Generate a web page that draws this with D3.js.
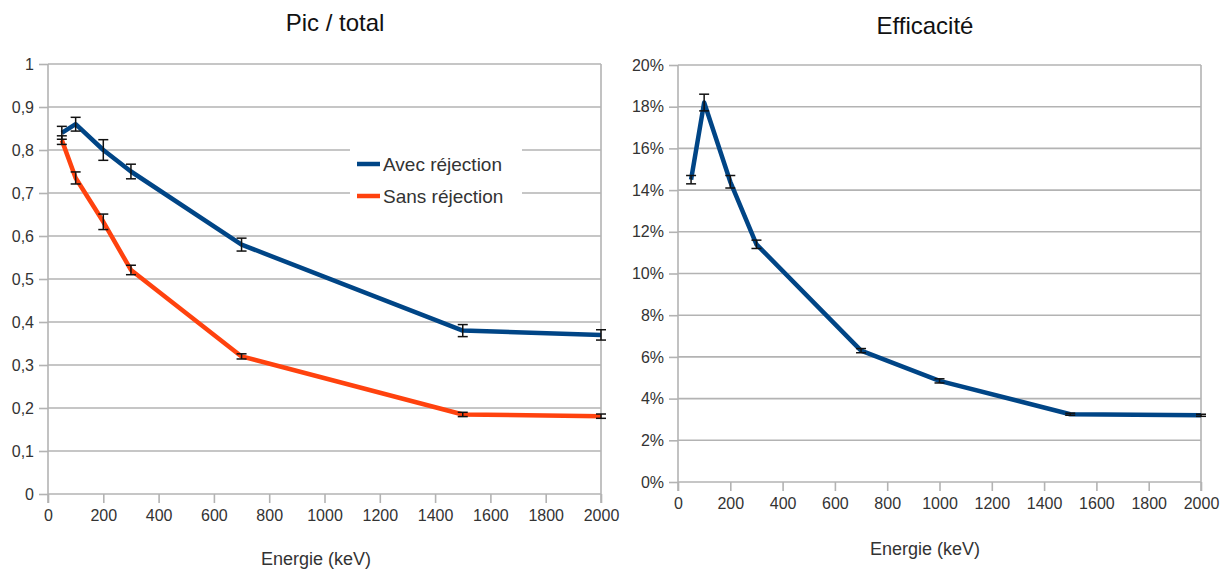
<!DOCTYPE html>
<html><head><meta charset="utf-8">
<script src="https://cdn.jsdelivr.net/npm/d3@7"></script>
<style>body{margin:0;background:#fff}svg{display:block;font-family:"Liberation Sans",Arial,sans-serif}</style>
</head><body>
<svg id="c" width="1226" height="572"></svg>
<script>
// ---- data ----
const energiesPT = [50, 100, 200, 300, 700, 1500, 2000];
const avecRejection = [0.84, 0.86, 0.80, 0.75, 0.58, 0.38, 0.37];
const avecErr = [0.015, 0.016, 0.024, 0.017, 0.015, 0.014, 0.012];
const sansRejection = [0.823, 0.735, 0.633, 0.521, 0.32, 0.185, 0.181];
const sansErr = [0.01, 0.014, 0.018, 0.011, 0.006, 0.005, 0.005];
const energiesEff = [50, 100, 200, 300, 700, 1000, 1500, 2000];
const efficacite = [0.145, 0.182, 0.144, 0.114, 0.063, 0.0485, 0.0325, 0.032];
const effErr = [0.002, 0.004, 0.003, 0.002, 0.001, 0.001, 0.0005, 0.0005];
const xTicks = [0,200,400,600,800,1000,1200,1400,1600,1800,2000];
const yTicksPT = [0,0.1,0.2,0.3,0.4,0.5,0.6,0.7,0.8,0.9,1];
const yTicksEff = [0,0.02,0.04,0.06,0.08,0.10,0.12,0.14,0.16,0.18,0.20];
const seriesNames = ["Avec réjection", "Sans réjection"];
const colors = ["#004586", "#ff420e"];

const svg = d3.select("#c");
const gridCol = "#b3b3b3", txtCol = "#333";

function panel(o) {
  const x = d3.scaleLinear().domain([0,2000]).range([o.x0, o.x1]);
  const y = d3.scaleLinear().domain(o.ydom).range([o.y0, o.y1]);
  const g = svg.append("g");
  g.selectAll("line.grid").data(o.yTicks).join("line")
    .attr("x1", o.x0).attr("x2", o.x1).attr("y1", d=>y(d)).attr("y2", d=>y(d))
    .attr("stroke", gridCol).attr("stroke-width", 1.6);
  g.append("line").attr("x1",o.x0).attr("x2",o.x0).attr("y1",o.y1).attr("y2",o.y0+9).attr("stroke",gridCol).attr("stroke-width",1.6);
  g.append("line").attr("x1",o.x1).attr("x2",o.x1).attr("y1",o.y1).attr("y2",o.y0+9).attr("stroke",gridCol).attr("stroke-width",1.6);
  const xa = g.append("g").attr("transform",`translate(0,${o.y0})`)
    .call(d3.axisBottom(x).tickValues(xTicks).tickSize(9).tickPadding(o.xpad).tickFormat(d3.format("d")));
  xa.select(".domain").remove();
  xa.selectAll("line").attr("stroke",gridCol).attr("stroke-width",1.6);
  xa.selectAll("text").attr("fill",txtCol).style("font-size","16px");
  const ya = g.append("g").attr("transform",`translate(${o.x0},0)`)
    .call(d3.axisLeft(y).tickValues(o.yTicks).tickSize(9).tickPadding(5).tickFormat(o.fmt));
  ya.select(".domain").remove();
  ya.selectAll("line").attr("stroke",gridCol).attr("stroke-width",1.6);
  ya.selectAll("text").attr("fill",txtCol).style("font-size","16px");
  svg.append("text").attr("x",o.tx).attr("y",o.ty).attr("text-anchor","middle")
    .style("font-size","24px").attr("fill","#111").text(o.title);
  svg.append("text").attr("x",o.xlx).attr("y",o.xly).attr("text-anchor","middle")
    .style("font-size","18px").attr("fill",txtCol).text("Energie (keV)");
  return {x, y, g};
}

function series(p, xs, vals, errs, color) {
  const line = d3.line().x((d,i)=>p.x(xs[i])).y(d=>p.y(d));
  p.g.append("path").datum(vals).attr("d", line).attr("fill","none")
    .attr("stroke", color).attr("stroke-width", 4.5).attr("stroke-linejoin","round");
  const eb = p.g.append("g");
  vals.forEach((v,i)=>{
    const cx = p.x(xs[i]), yt = p.y(v+errs[i]), yb = p.y(v-errs[i]);
    eb.append("line").attr("x1",cx).attr("x2",cx).attr("y1",yt).attr("y2",yb).attr("stroke","#111").attr("stroke-width",1.5);
    eb.append("line").attr("x1",cx-5).attr("x2",cx+5).attr("y1",yt).attr("y2",yt).attr("stroke","#111").attr("stroke-width",1.5);
    eb.append("line").attr("x1",cx-5).attr("x2",cx+5).attr("y1",yb).attr("y2",yb).attr("stroke","#111").attr("stroke-width",1.5);
  });
}

const commaFmt = d => d===0 ? "0" : (d===1 ? "1" : d3.format(".1f")(d).replace(".", ","));
const p1 = panel({x0:48, x1:601, y0:494, y1:64, ydom:[0,1], yTicks:yTicksPT, fmt:commaFmt, xpad:7,
  title:"Pic / total", tx:335, ty:31, xlx:316, xly:565});

p1.g.append("rect").attr("x",350).attr("y",146).attr("width",172).attr("height",66).attr("fill","#fff");

series(p1, energiesPT, sansRejection, sansErr, colors[1]);
series(p1, energiesPT, avecRejection, avecErr, colors[0]);

seriesNames.forEach((n,i)=>{
  const yy = 164 + i*32;
  svg.append("line").attr("x1",357).attr("x2",380).attr("y1",yy).attr("y2",yy)
    .attr("stroke",colors[i]).attr("stroke-width",4.5);
  svg.append("text").attr("x",383).attr("y",yy+7).style("font-size","19px").attr("fill",txtCol).text(n);
});

const p2 = panel({x0:678, x1:1201, y0:482, y1:65, ydom:[0,0.2], yTicks:yTicksEff, fmt:d=>Math.round(d*100)+"%", xpad:7,
  title:"Efficacité", tx:925, ty:34, xlx:925, xly:555});
series(p2, energiesEff, efficacite, effErr, colors[0]);
</script>
</body></html>
